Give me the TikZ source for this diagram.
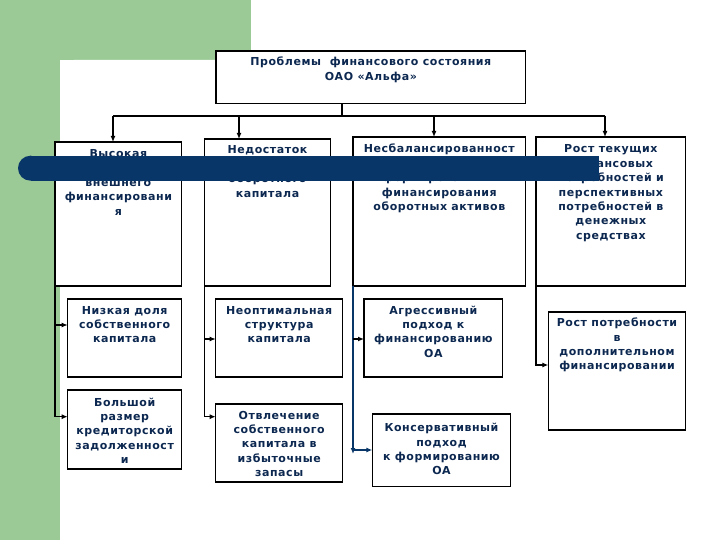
\documentclass[tikz,border=0pt]{standalone}
\usepackage{fontspec}
\setmainfont{DejaVu Sans}[LetterSpace=5]
\usetikzlibrary{arrows.meta}
\definecolor{grn}{RGB}{155,202,150}
\definecolor{navy}{RGB}{8,54,104}
\definecolor{ink}{RGB}{12,40,80}
\newcommand\mybox[7]{%
  \node[box, minimum width={#4bp-#2bp}, minimum height={#5bp-#3bp}] (#1) at (#2,#3) {};
  \node[txt] (#1t) at ({(#2+#4)/2},{#3+#6}) {\parbox[t]{320bp}{\centering #7}};
}
\begin{document}
\begin{tikzpicture}[x=1bp,y=-1bp,
  box/.style={draw=black, line width=1.2bp, fill=white, inner sep=0pt, outer sep=0pt, anchor=north west},
  txt/.style={anchor=base, inner sep=0pt, text=ink, font=\fontsize{11bp}{14.4bp}\selectfont\bfseries},
  link/.style={draw=black, line width=1.2bp},
  arr/.style={link, -{Latex[length=6bp,width=5bp]}},
]
\useasboundingbox (0,0) rectangle (720,540);
\fill[white] (0,0) rectangle (720,540);
\fill[grn] (0,0) rectangle (251,60);
\fill[grn] (0,0) rectangle (60,540);
\fill[white, rounded corners=14bp] (60,60) rectangle (760,580);

\mybox{top}{216}{51}{525.7}{103.3}{15}{Проблемы~~финансового состояния\\ОАО «Альфа»}
\mybox{B1}{55}{142}{181.7}{286}{15.5}{Высокая\\доля\\внешнего\\финансировани\\я}
\mybox{B2}{204.3}{139}{330.7}{286}{15}{Недостаток\\собственного\\оборотного\\капитала}
\mybox{B3}{353}{137}{525.7}{286}{16}{Несбалансированност\\ь процессов\\формирования и\\финансирования\\оборотных активов}
\mybox{B4}{536}{137}{685.7}{286}{16}{Рост текущих\\финансовых\\потребностей и\\перспективных\\потребностей в\\денежных\\средствах}
\mybox{B5}{67.7}{299}{181.7}{377}{15}{Низкая доля\\собственного\\капитала}
\mybox{B6}{215.7}{299}{342.7}{377}{15}{Неоптимальная\\структура\\капитала}
\mybox{B7}{364}{299}{502.7}{377}{15}{Агрессивный\\подход к\\финансированию\\ОА}
\mybox{B8}{548.3}{312}{685.7}{430}{14.7}{Рост потребности\\в\\дополнительном\\финансировании}
\mybox{B9}{67.7}{390}{181.7}{469}{16}{Большой\\размер\\кредиторской\\задолженност\\и}
\mybox{B10}{215.7}{404}{342.7}{482}{15}{Отвлечение\\собственного\\капитала в\\избыточные\\запасы}
\mybox{B11}{372.3}{414}{510.7}{486.7}{17.7}{Консервативный\\подход\\к формированию\\ОА}

% top distribution
\coordinate (j) at (342,116);
\coordinate (h1) at (113,116);
\coordinate (h2) at (239,116);
\coordinate (h3) at (434,116);
\coordinate (h4) at (605,116);
\draw[link] (top.south -| j) -- (j);
\draw[link] (h1) -- (h4);
\draw[arr] (h1) -- (h1 |- B1.north);
\draw[arr] (h2) -- (h2 |- B2.north);
\draw[arr] (h3) -- (h3 |- B3.north);
\draw[arr] (h4) -- (h4 |- B4.north);

% column 1
\coordinate (v1a) at (55,325);
\coordinate (v1b) at (55,416.7);
\draw[arr] (B1.south west) |- (B9.west |- v1b);
\draw[arr] (v1a) -- (B5.west |- v1a);
% column 2
\coordinate (v2a) at (204.3,339);
\coordinate (v2b) at (204.3,416.7);
\draw[arr] (B2.south west) |- (B10.west |- v2b);
\draw[arr] (v2a) -- (B6.west |- v2a);
% column 3
\coordinate (v3a) at (353,339);
\coordinate (v3b) at (353,450);
\coordinate (v3e) at (353,454);
\draw[arr, draw=navy] (B3.south west) -- (v3e);
\draw[arr] (v3a) -- (B7.west |- v3a);
\draw[arr, draw=navy] (v3b) -- (B11.west |- v3b);
% column 4
\coordinate (v4) at (536,365);
\draw[arr] (B4.south west) |- (B8.west |- v4);

% decorative bar
\fill[navy] (30.5,155.7) rectangle (599,180.7);
\fill[navy] (30.5,168.2) circle (12.5);
\end{tikzpicture}
\end{document}
